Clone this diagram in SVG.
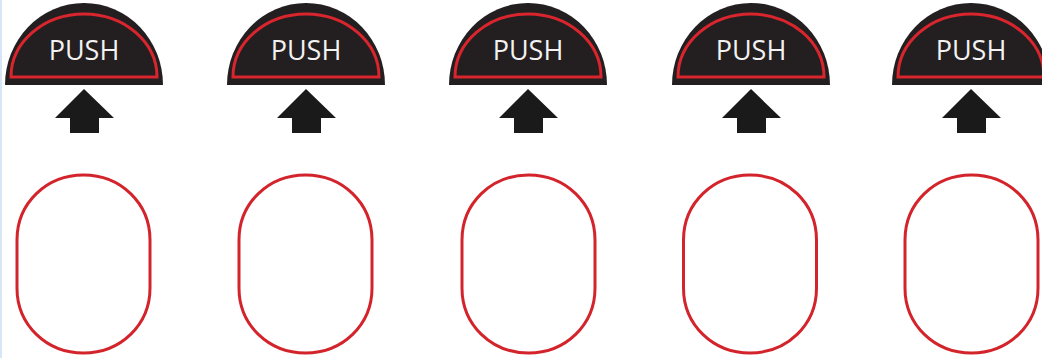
<svg xmlns="http://www.w3.org/2000/svg" xmlns:xlink="http://www.w3.org/1999/xlink" width="1042" height="358" viewBox="0 0 1042 358">
  <style>
    .dome { fill: #231f20; }
    .rim { fill: none; stroke: #d9252d; stroke-width: 3; }
    .label { fill: #f2f2f2; font-family: "Open Sans", "Liberation Sans", sans-serif; font-size: 27px; text-anchor: middle; }
    .arrow { fill: #1a1a1a; }
    .pad { fill: none; stroke: #d3242c; stroke-width: 3; }
  </style>
  <defs>
    <g id="button">
      <path class="dome" d="M-79,85 A79,82 0 0 1 79,85 Z"/>
      <path class="rim" d="M-73,77 A73,63 0 0 1 73,77 Z"/>
      <text class="label" x="0" y="60">PUSH</text>
      <path class="arrow" d="M0,89 L30,118 L15,118 L15,133 L-14,133 L-14,118 L-29,118 Z"/>
    </g>
    <path id="oval" class="pad" d="M-66.5,240 C-66.5,203 -37,175 0,175 C37,175 66.5,203 66.5,240 L66.5,288 C66.5,325 37,353 0,353 C-37,353 -66.5,325 -66.5,288 Z"/>
  </defs>
  <rect x="0" y="0" width="1042" height="358" fill="#ffffff"/>
  <rect x="0" y="0" width="2" height="358" fill="#d6e6f6"/>
  <g id="unit1" transform="translate(84,0)">
    <use xlink:href="#button"/>
    <use xlink:href="#oval" transform="translate(-0.5,0)"/>
  </g>
  <g id="unit2" transform="translate(306,0)">
    <use xlink:href="#button"/>
    <use xlink:href="#oval" transform="translate(-0.5,0)"/>
  </g>
  <g id="unit3" transform="translate(528,0)">
    <use xlink:href="#button"/>
    <use xlink:href="#oval" transform="translate(0.5,0)"/>
  </g>
  <g id="unit4" transform="translate(751,0)">
    <use xlink:href="#button"/>
    <use xlink:href="#oval" transform="translate(-1,0)"/>
  </g>
  <g id="unit5" transform="translate(971,0)">
    <use xlink:href="#button"/>
    <use xlink:href="#oval" transform="translate(0.5,0)"/>
  </g>
  <g id="connectors"/>
</svg>
